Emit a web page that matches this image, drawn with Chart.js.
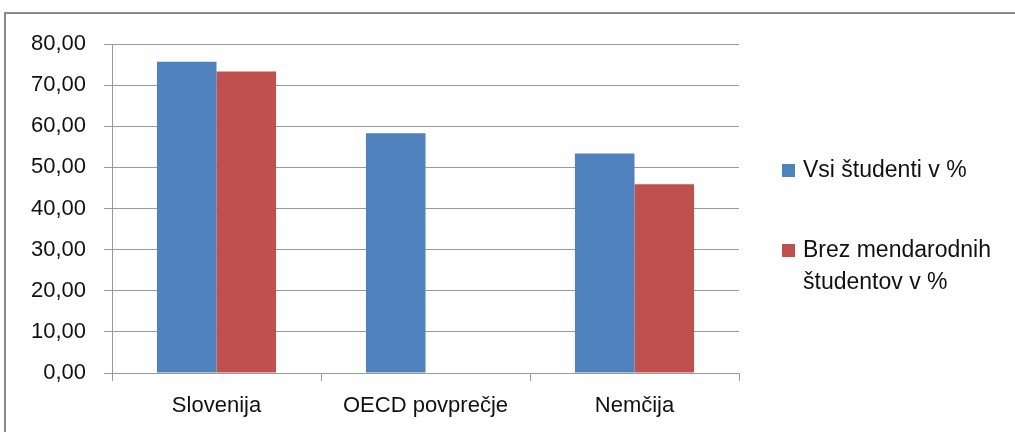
<!DOCTYPE html>
<html>
<head>
  <meta charset="utf-8">
  <title>Študenti v %</title>
  <script src="https://cdn.jsdelivr.net/npm/chart.js"></script>
  <style>
    html, body { margin: 0; padding: 0; background: #fff; }
    #wrap { width: 1015px; height: 432px; position: relative; }
  </style>
</head>
<body>
  <div id="wrap"><canvas id="chart"></canvas></div>

  <script>
    // data
    const categories = ['Slovenija', 'OECD povprečje', 'Nemčija'];
    const seriesNames = ['Vsi študenti v %', 'Brez mendarodnih\nštudentov v %'];
    const allStudents = [75.7, 58.3, 53.4];
    const withoutIntl = [73.3, null, 45.9];
    const seriesColors = ['#4F81BD', '#C0504D'];

    const FONT = '"Liberation Sans", Arial, sans-serif';

    // outer frame of the chart object
    const framePlugin = {
      id: 'frame',
      beforeDraw(chart) {
        const c = chart.ctx;
        c.save();
        c.fillStyle = '#fff';
        c.fillRect(0, 0, chart.width, chart.height);
        c.strokeStyle = '#8a8a8a';
        c.lineWidth = 2;
        c.beginPath();
        c.moveTo(5, chart.height + 5);
        c.lineTo(5, 13);
        c.lineTo(chart.width + 5, 13);
        c.stroke();
        c.restore();
      }
    };

    // legend on the right with wrapped labels
    const sideLegend = {
      id: 'sideLegend',
      afterDraw(chart) {
        const c = chart.ctx;
        c.save();
        c.font = '23px ' + FONT;
        c.textBaseline = 'middle';
        c.textAlign = 'left';
        let y = 171;
        chart.data.datasets.forEach((ds, i) => {
          const lines = seriesNames[i].split('\n');
          c.fillStyle = ds.backgroundColor;
          c.fillRect(782, y - 7, 13, 13);
          c.fillStyle = '#111';
          lines.forEach((ln, k) => c.fillText(ln, 803, y + k * 32));
          y += 80;
        });
        c.restore();
      }
    };

    const ctx = document.getElementById('chart').getContext('2d');
    const chart = new Chart(ctx, {
      type: 'bar',
      data: {
        labels: categories,
        datasets: [
          {
            label: seriesNames[0].replace('\n', ' '),
            data: allStudents,
            backgroundColor: seriesColors[0]
          },
          {
            label: seriesNames[1].replace('\n', ' '),
            data: withoutIntl,
            backgroundColor: seriesColors[1]
          }
        ]
      },
      options: {
        responsive: true,
        maintainAspectRatio: false,
        animation: false,
        categoryPercentage: 0.57,
        barPercentage: 1.0,
        layout: { padding: { left: 0, right: 276, top: 44, bottom: 0 } },
        plugins: {
          legend: { display: false },
          tooltip: { enabled: false }
        },
        scales: {
          x: {
            grid: {
              offset: true,
              drawOnChartArea: false,
              color: '#9a9a9a',
              tickLength: 8
            },
            border: { color: '#9a9a9a' },
            ticks: {
              color: '#111',
              font: { family: FONT, size: 22 },
              padding: 12
            },
            afterFit(scale) { scale.height = 59; }
          },
          y: {
            min: 0,
            max: 80,
            grid: { color: '#9a9a9a', tickLength: 8 },
            border: { color: '#9a9a9a' },
            ticks: {
              stepSize: 10,
              color: '#111',
              font: { family: FONT, size: 22 },
              padding: 18,
              callback: v => v.toFixed(2).replace('.', ',')
            },
            afterFit(scale) { scale.width = 112; }
          }
        }
      },
      plugins: [framePlugin, sideLegend]
    });
  </script>
</body>
</html>
